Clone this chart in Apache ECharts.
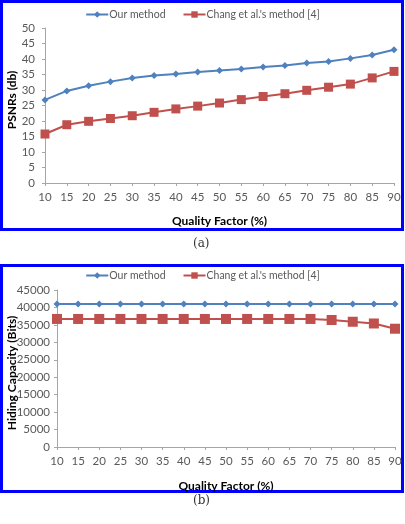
<!DOCTYPE html>
<html>
<head>
<meta charset="utf-8">
<script src="https://cdn.jsdelivr.net/npm/echarts@6/dist/echarts.min.js"></script>
<style>
  html, body { margin: 0; padding: 0; background: #fff; }
  #main { width: 405px; height: 524px; }
</style>
</head>
<body>
<div id="main"></div>
<script>
// 横轴：质量因子
const qualityFactor = ["10", "15", "20", "25", "30", "35", "40", "45", "50", "55", "60", "65", "70", "75", "80", "85", "90"];

// (a) PSNR
const psnrOurs = [26.8, 29.7, 31.4, 32.7, 33.9, 34.7, 35.2, 35.8, 36.3, 36.8, 37.4, 37.9, 38.7, 39.2, 40.2, 41.3, 43.0];
const psnrChang = [15.8, 18.8, 19.9, 20.8, 21.7, 22.8, 23.9, 24.8, 25.8, 26.9, 27.9, 28.8, 29.9, 30.9, 31.9, 33.9, 36.0];

// (b) 隐藏容量
const capOurs = [41000, 41000, 41000, 41000, 41000, 41000, 41000, 41000, 41000, 41000, 41000, 41000, 41000, 41000, 41000, 41000, 41000];
const capChang = [36700, 36700, 36700, 36700, 36700, 36700, 36700, 36700, 36700, 36700, 36700, 36700, 36700, 36400, 35900, 35400, 33900];

const nameOurs = "Our method";
const nameChang = "Chang et al.'s method [4]";

const blue = "#4F81BD";
const red = "#C0504D";
const font = "Lato, sans-serif";
const labelColor = "#595959";

let myChart = echarts.init(document.getElementById("main"));

function xAxisCfg(gridIndex, gap) {
  return {
    type: "category",
    gridIndex: gridIndex,
    data: qualityFactor,
    boundaryGap: false,
    axisLine: { lineStyle: { color: "#A6A6A6" } },
    axisTick: { show: true, length: 3, lineStyle: { color: "#A6A6A6" } },
    axisLabel: { color: labelColor, fontSize: 11.5, fontFamily: font, margin: 8 },
    name: "Quality Factor (%)",
    nameLocation: "center",
    nameGap: gap,
    nameTextStyle: { color: "#000", fontSize: 12, fontWeight: "bold", fontFamily: font },
  };
}

function yAxisCfg(gridIndex, max, interval, margin) {
  return {
    type: "value",
    gridIndex: gridIndex,
    min: 0,
    max: max,
    interval: interval,
    splitLine: { show: false },
    axisLine: { show: true, lineStyle: { color: "#A6A6A6" } },
    axisTick: { show: true, length: 3, lineStyle: { color: "#A6A6A6" } },
    axisLabel: { color: labelColor, fontSize: 11.5, fontFamily: font, margin: margin, formatter: (v) => String(v) },
  };
}

// 纵轴标题（竖排）
function yTitle(text, x, y) {
  return {
    type: "text",
    x: x,
    y: y,
    rotation: Math.PI / 2,
    style: {
      text: text,
      fill: "#000",
      font: "bold 12px Lato, sans-serif",
      align: "center",
      verticalAlign: "middle",
    },
  };
}

function seriesOurs(data, idx) {
  return {
    name: nameOurs,
    type: "line",
    xAxisIndex: idx,
    yAxisIndex: idx,
    data: data,
    symbol: "diamond",
    symbolSize: 7,
    color: blue,
    lineStyle: { width: 2, color: blue },
    itemStyle: { color: blue },
  };
}

function seriesChang(data, idx, size) {
  return {
    name: nameChang,
    type: "line",
    xAxisIndex: idx,
    yAxisIndex: idx,
    data: data,
    symbol: "rect",
    symbolSize: size,
    color: red,
    lineStyle: { width: 2, color: red },
    itemStyle: { color: red },
  };
}

function legendCfg(top) {
  return {
    top: top,
    left: "center",
    itemWidth: 22,
    itemHeight: 8,
    itemGap: 17,
    textStyle: { color: labelColor, fontSize: 10.5, fontFamily: font, padding: [0, 0, 0, -4] },
    data: [nameOurs, nameChang],
  };
}

let option = {
  animation: false,
  // 两个子图
  grid: [
    { left: 45, right: 11, top: 28, height: 155, outerBoundsMode: "none", containLabel: false },
    { left: 57, right: 10, top: 290, height: 157, outerBoundsMode: "none", containLabel: false },
  ],
  legend: [legendCfg(4), legendCfg(265)],
  xAxis: [xAxisCfg(0, 32), xAxisCfg(1, 33)],
  yAxis: [
    yAxisCfg(0, 50, 5, 10),
    yAxisCfg(1, 45000, 5000, 7),
  ],
  series: [
    seriesOurs(psnrOurs, 0),
    seriesChang(psnrChang, 0, 9),
    seriesOurs(capOurs, 1),
    seriesChang(capChang, 1, 10),
  ],
  graphic: [
    { type: "rect", shape: { x: 1.5, y: 1.5, width: 401, height: 228 }, style: { fill: null, stroke: "#0000FF", lineWidth: 3 } },
    { type: "rect", shape: { x: 1.5, y: 265.5, width: 401, height: 226 }, style: { fill: null, stroke: "#0000FF", lineWidth: 3 } },
    yTitle("PSNRs (db)", 12, 100),
    yTitle("Hiding Capacity (Bits)", 12, 373),
    { type: "text", left: 193, top: 238, style: { text: "(a)", fill: "#333", font: "12px 'DejaVu Serif', serif" } },
    { type: "text", left: 193, top: 495, style: { text: "(b)", fill: "#333", font: "12px 'DejaVu Serif', serif" } },
  ],
};

option && myChart.setOption(option);
</script>
</body>
</html>
